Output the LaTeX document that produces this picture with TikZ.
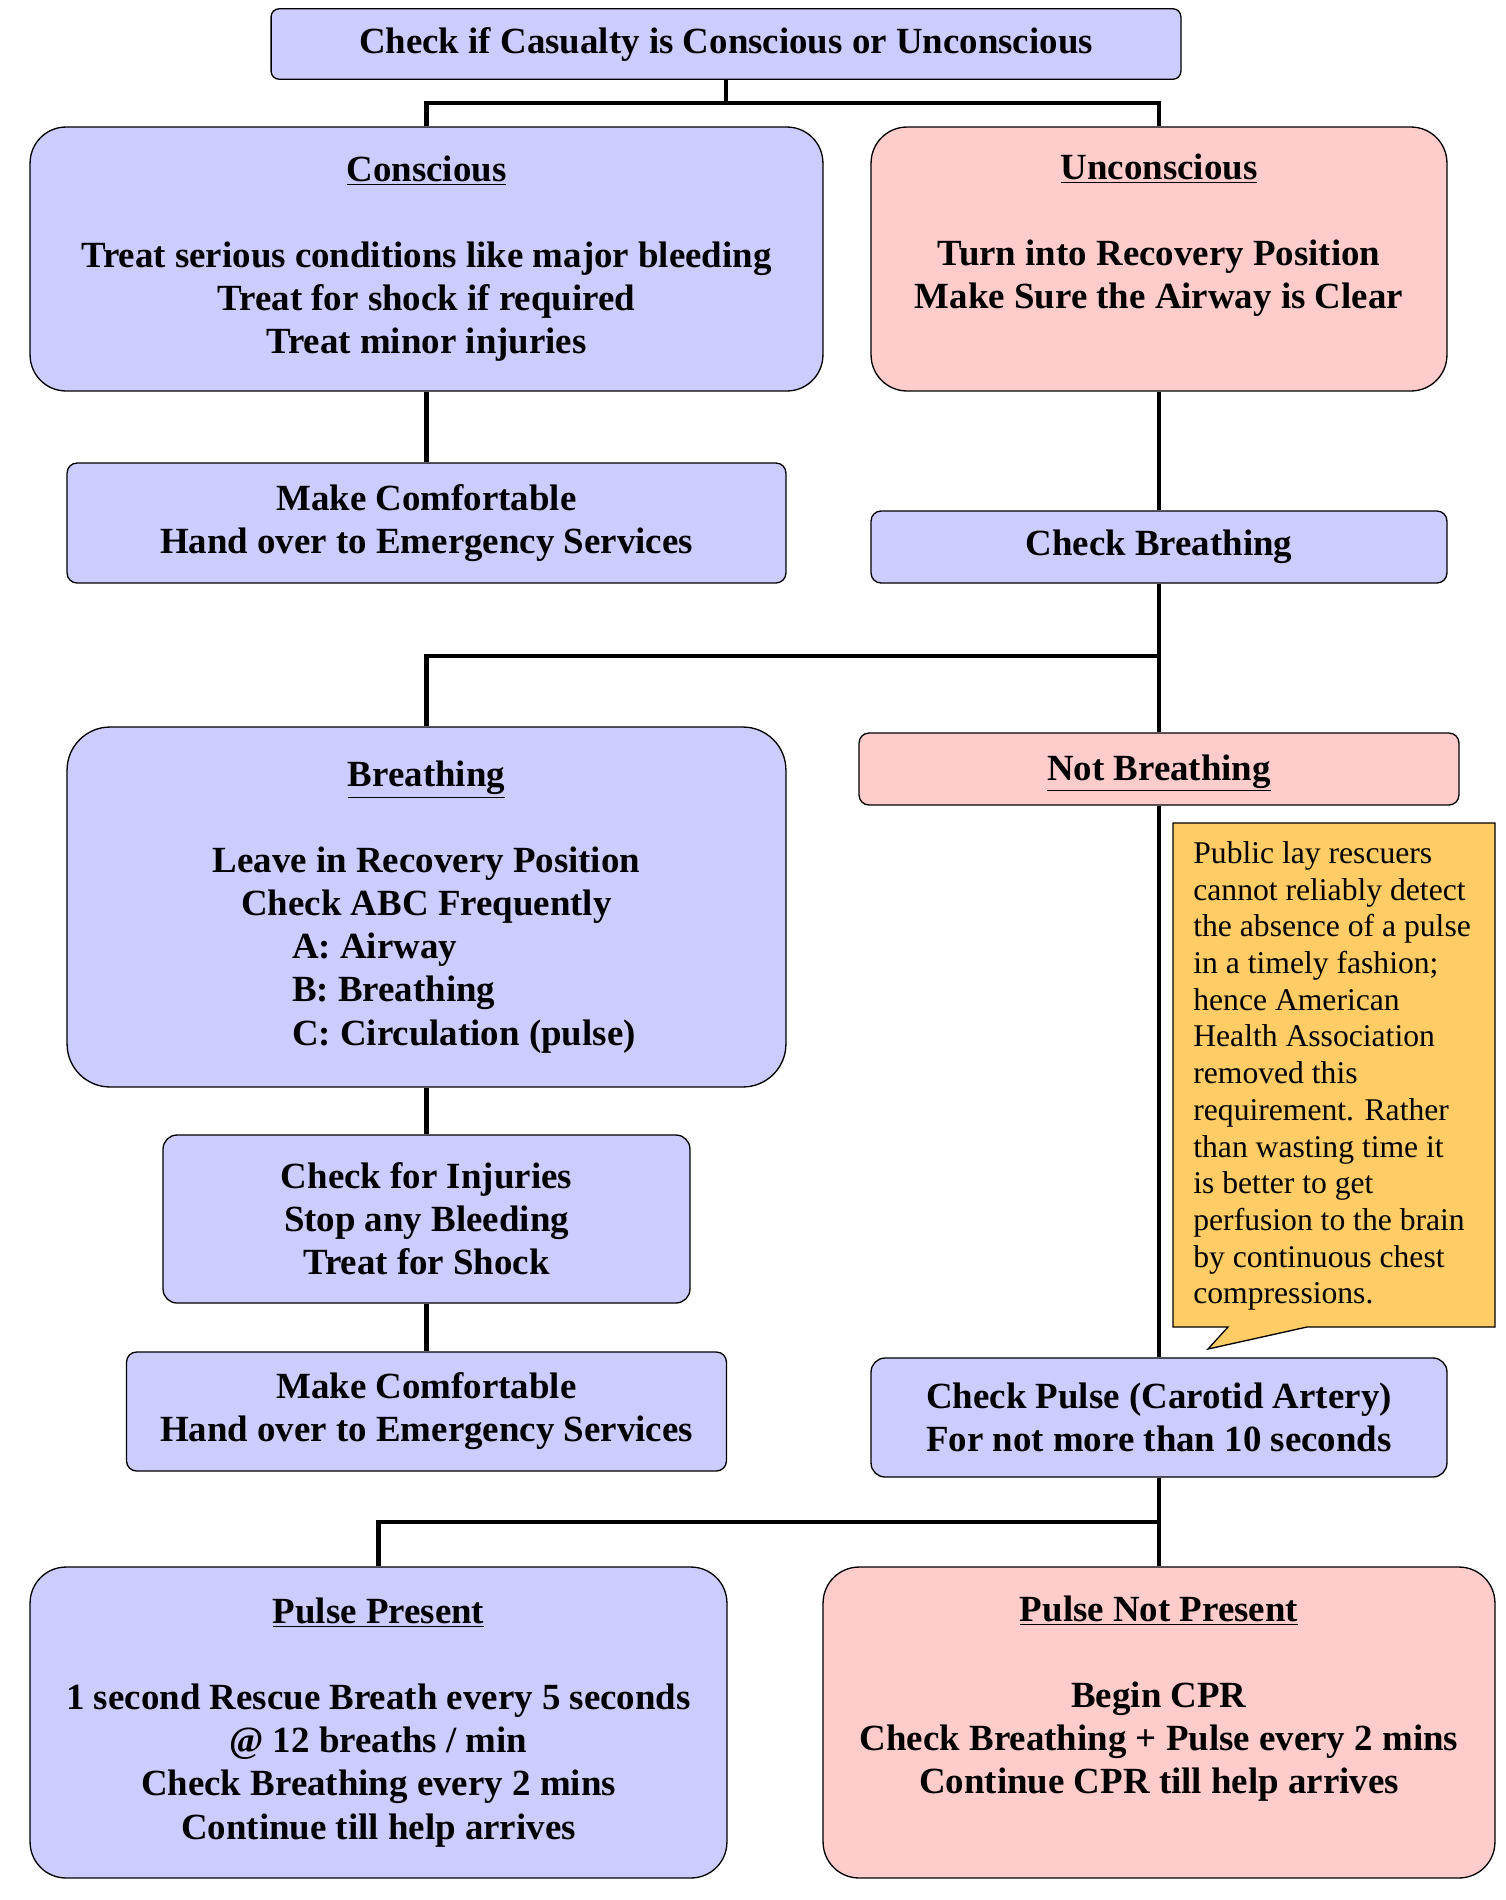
\documentclass[tikz,border=0pt]{standalone}
\usepackage{fontspec}
\setmainfont{Liberation Serif}
\definecolor{boxblue}{HTML}{CCCCFF}
\definecolor{boxpink}{HTML}{FFCCCC}
\definecolor{noteyellow}{HTML}{FFCC66}
\newcommand{\abcline}[1]{\makebox[5.38cm][l]{#1}}

\begin{document}
\begin{tikzpicture}[x=0.02cm, y=-0.02cm,
		box/.style={draw=black, line width=0.75pt, align=center, inner sep=0pt, font=\fontsize{21}{24.5}\selectfont\bfseries},
		bluebox/.style={box, fill=boxblue},
		pinkbox/.style={box, fill=boxpink},
		link/.style={line width=2.3pt},
		notetext/.style={align=left, inner sep=0pt, font=\fontsize{18}{20.9}\selectfont}]
				\useasboundingbox (0,0) rectangle (1505,1900);
				
				\node[bluebox, rounded corners=0.16cm, minimum width=18.2cm, minimum height=1.41cm] (top) at (726,44) {Check if Casualty is Conscious or Unconscious};
				
				\node[bluebox, rounded corners=0.72cm, minimum width=15.86cm, minimum height=5.28cm] (consc) at (426.5,259) {\underline{Conscious}\\ \strut\\ Treat serious conditions like major bleeding\\ Treat for shock if required\\ Treat minor injuries};
				\node[pinkbox, rounded corners=0.72cm, minimum width=11.52cm, minimum height=5.28cm] (uncon) at (1159,259) {\underline{Unconscious}\\ \strut\\ Turn into Recovery Position\\ Make Sure the Airway is Clear\\ \strut};
				
				\node[bluebox, rounded corners=0.2cm, minimum width=14.38cm, minimum height=2.4cm] (comfa) at (426.5,523) {Make Comfortable\\ Hand over to Emergency Services};
				\node[bluebox, rounded corners=0.2cm, minimum width=11.52cm, minimum height=1.44cm] (chkbr) at (1159,547) {Check Breathing};
				
				\node[bluebox, rounded corners=0.86cm, minimum width=14.38cm, minimum height=7.2cm] (breath) at (426.5,907) {\underline{Breathing}\\ \strut\\ Leave in Recovery Position\\ Check ABC Frequently\\ \abcline{A: Airway}\\ \abcline{B: Breathing}\\ \abcline{C: Circulation (pulse)}};
				\node[pinkbox, rounded corners=0.2cm, minimum width=12cm, minimum height=1.44cm, text depth=2pt] (notbr) at (1159,769) {\underline{Not Breathing}};
				
				\node[bluebox, rounded corners=0.28cm, minimum width=10.54cm, minimum height=3.36cm] (injur) at (426.5,1219) {Check for Injuries\\ Stop any Bleeding\\ Treat for Shock};
				\node[bluebox, rounded corners=0.2cm, minimum width=12cm, minimum height=2.38cm] (comfb) at (426.5,1411.5) {Make Comfortable\\ Hand over to Emergency Services};
				\node[bluebox, rounded corners=0.28cm, minimum width=11.52cm, minimum height=2.38cm] (pulse) at (1159,1417.5) {Check Pulse (Carotid Artery)\\ For not more than 10 seconds};
				
				\node[bluebox, rounded corners=0.72cm, minimum width=13.94cm, minimum height=6.22cm] (present) at (378.5,1722.5) {\underline{Pulse Present}\\ \strut\\ 1 second Rescue Breath every 5 seconds\\ @ 12 breaths / min\\ Check Breathing every 2 mins\\ Continue till help arrives};
				\node[pinkbox, rounded corners=0.72cm, minimum width=13.44cm, minimum height=6.22cm] (absent) at (1159,1722.5) {\underline{Pulse Not Present}\\ \strut\\ Begin CPR\\ Check Breathing + Pulse every 2 mins\\ Continue CPR till help arrives\\ \strut};
				
				% callout beside the pulse check
				\draw[fill=noteyellow, line width=0.75pt] (1173,823) -- (1495,823) -- (1495,1327) -- (1307,1327) -- (1208,1349) -- (1228,1327) -- (1173,1327) -- cycle;
				\node[notetext, anchor=north west] (note) at (1193,841) {Public lay rescuers\\ cannot reliably detect\\ the absence of a pulse\\ in a timely fashion;\\ hence American\\ Health Association\\ removed this\\ requirement. Rather\\ than wasting time it\\ is better to get\\ perfusion to the brain\\ by continuous chest\\ compressions.};
				
				\coordinate (splita) at (726,103);
				\coordinate (splitb) at (1159,655.6);
				\coordinate (splitc) at (1159,1522);
				
				\draw[link] (top.south) -- (splita);
				\draw[link] (consc.north) |- (splita) -| (uncon.north);
				\draw[link] (consc.south) -- (comfa.north);
				\draw[link] (uncon.south) -- (chkbr.north);
				\draw[link] (chkbr.south) -- (notbr.north);
				\draw[link] (splitb) -| (breath.north);
				\draw[link] (breath.south) -- (injur.north);
				\draw[link] (injur.south) -- (comfb.north);
				\draw[link] (notbr.south) -- (pulse.north);
				\draw[link] (pulse.south) -- (absent.north);
				\draw[link] (splitc) -| (present.north);
			\end{tikzpicture}
\end{document}
